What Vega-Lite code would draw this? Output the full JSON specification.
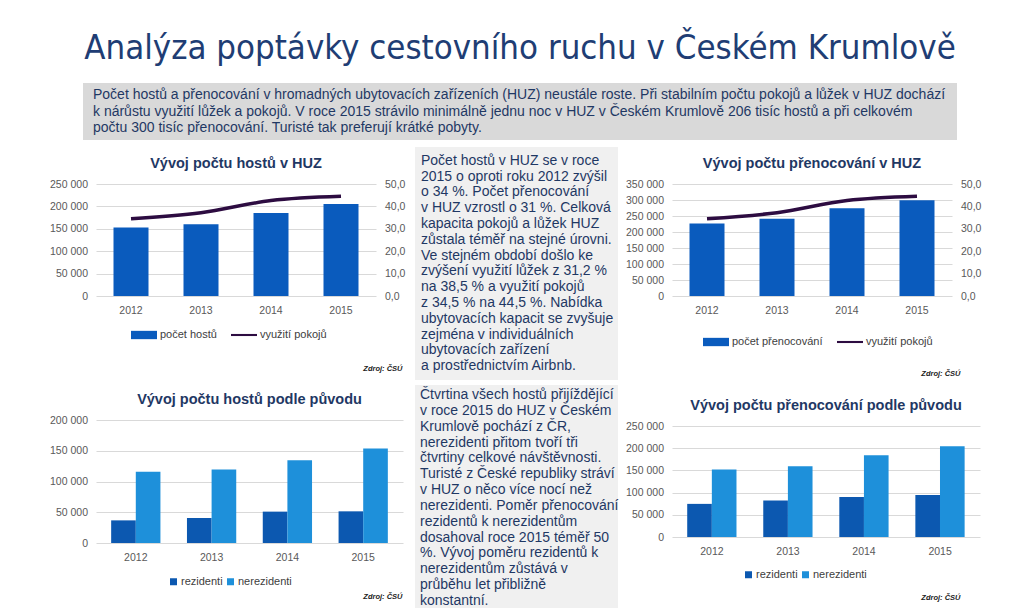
{
  "$schema": "https://vega.github.io/schema/vega-lite/v6.json",
  "autosize": {"type": "none"},
  "padding": {"left": 0, "top": 83, "right": 1023, "bottom": 525},
  "background": "white",
  "datasets": {
    "huz": [
      {"rok": "2012", "hoste": 152800, "prenoc": 226800, "pokoje": 34.5},
      {"rok": "2013", "hoste": 160100, "prenoc": 241700, "pokoje": 37.2},
      {"rok": "2014", "hoste": 185500, "prenoc": 274400, "pokoje": 42.6},
      {"rok": "2015", "hoste": 205100, "prenoc": 299100, "pokoje": 44.5}
    ],
    "puvod": [
      {"rok": "2012", "puvod": "rezidenti", "hoste": 36800, "prenoc": 74600},
      {"rok": "2012", "puvod": "nerezidenti", "hoste": 116000, "prenoc": 152200},
      {"rok": "2013", "puvod": "rezidenti", "hoste": 40700, "prenoc": 82100},
      {"rok": "2013", "puvod": "nerezidenti", "hoste": 119400, "prenoc": 159600},
      {"rok": "2014", "puvod": "rezidenti", "hoste": 51000, "prenoc": 90200},
      {"rok": "2014", "puvod": "nerezidenti", "hoste": 134500, "prenoc": 184200},
      {"rok": "2015", "puvod": "rezidenti", "hoste": 51500, "prenoc": 94700},
      {"rok": "2015", "puvod": "nerezidenti", "hoste": 153600, "prenoc": 204400}
    ],
    "souhrn": [
      {"box": "souhrn", "line": 1, "text": "Počet hostů a přenocování v hromadných ubytovacích zařízeních (HUZ) neustále roste. Při stabilním počtu pokojů a lůžek v HUZ dochází"},
      {"box": "souhrn", "line": 2, "text": "k nárůstu využití lůžek a pokojů. V roce 2015 strávilo minimálně jednu noc v HUZ v Českém Krumlově 206 tisíc hostů a při celkovém"},
      {"box": "souhrn", "line": 3, "text": "počtu 300 tisíc přenocování. Turisté tak preferují krátké pobyty."}
    ],
    "text1": [
      {"box": "t1", "line": 1, "text": "Počet hostů v HUZ se v roce"},
      {"box": "t1", "line": 2, "text": "2015 o oproti roku 2012 zvýšil"},
      {"box": "t1", "line": 3, "text": "o 34 %. Počet přenocování"},
      {"box": "t1", "line": 4, "text": "v HUZ vzrostl o 31 %. Celková"},
      {"box": "t1", "line": 5, "text": "kapacita pokojů a lůžek HUZ"},
      {"box": "t1", "line": 6, "text": "zůstala téměř na stejné úrovni."},
      {"box": "t1", "line": 7, "text": "Ve stejném období došlo ke"},
      {"box": "t1", "line": 8, "text": "zvýšení využití lůžek z 31,2 %"},
      {"box": "t1", "line": 9, "text": "na 38,5 % a využití pokojů"},
      {"box": "t1", "line": 10, "text": "z 34,5 % na 44,5 %. Nabídka"},
      {"box": "t1", "line": 11, "text": "ubytovacích kapacit se zvyšuje"},
      {"box": "t1", "line": 12, "text": "zejména v individuálních"},
      {"box": "t1", "line": 13, "text": "ubytovacích zařízení"},
      {"box": "t1", "line": 14, "text": "a prostřednictvím Airbnb."}
    ],
    "text2": [
      {"box": "t2", "line": 1, "text": "Čtvrtina všech hostů přijíždějící"},
      {"box": "t2", "line": 2, "text": "v roce 2015 do HUZ v Českém"},
      {"box": "t2", "line": 3, "text": "Krumlově pochází z ČR,"},
      {"box": "t2", "line": 4, "text": "nerezidenti přitom tvoří tři"},
      {"box": "t2", "line": 5, "text": "čtvrtiny celkové návštěvnosti."},
      {"box": "t2", "line": 6, "text": "Turisté z České republiky stráví"},
      {"box": "t2", "line": 7, "text": "v HUZ o něco více nocí než"},
      {"box": "t2", "line": 8, "text": "nerezidenti. Poměr přenocování"},
      {"box": "t2", "line": 9, "text": "rezidentů k nerezidentům"},
      {"box": "t2", "line": 10, "text": "dosahoval roce 2015 téměř 50"},
      {"box": "t2", "line": 11, "text": "%. Vývoj poměru rezidentů k"},
      {"box": "t2", "line": 12, "text": "nerezidentům zůstává v"},
      {"box": "t2", "line": 13, "text": "průběhu let přibližně"},
      {"box": "t2", "line": 14, "text": "konstantní."}
    ]
  },
  "columns": 2,
  "spacing": 0,
  "bounds": "flush",
  "resolve": {
    "scale": {"x": "independent", "y": "independent", "color": "independent"},
    "legend": {"color": "independent"}
  },
  "concat": [
    {"width": 83, "height": 1, "data": {"values": []}, "mark": "point", "encoding": {}},
    {
      "width": 874, "height": 57,
      "data": {"name": "souhrn"},
      "view": {"fill": "#d9d9d9", "stroke": null},
      "title": {
        "text": "Analýza poptávky cestovního ruchu v Českém Krumlově",
        "font": "DejaVu Sans Condensed, Liberation Sans Narrow, sans-serif",
        "fontSize": 34.5, "fontWeight": "normal", "color": "#203d74",
        "anchor": "middle", "offset": 17
      },
      "mark": {"type": "text", "align": "left", "baseline": "middle", "dx": 10, "fontSize": 14, "color": "#1f3864"},
      "encoding": {
        "x": {"field": "box", "type": "nominal", "scale": {"type": "point", "padding": 0, "align": 0}, "axis": null},
        "y": {"field": "line", "type": "ordinal", "scale": {"type": "point", "padding": 0.75}, "axis": null},
        "text": {"field": "text"}
      }
    },
    {"width": 1, "height": 1, "data": {"values": []}, "mark": "point", "encoding": {}},
    {
      "columns": 4,
      "spacing": 0,
      "bounds": "flush",
      "resolve": {
        "scale": {"x": "independent", "y": "independent", "color": "independent"},
        "legend": {"color": "independent"}
      },
      "concat": [
        {"width": 1, "height": 1, "data": {"values": []}, "mark": "point", "encoding": {}},
        {
          "spacing": 0,
          "bounds": "flush",
          "resolve": {
            "scale": {"x": "independent", "y": "independent", "color": "independent"},
            "legend": {"color": "independent"}
          },
          "vconcat": [
            {"width": 1, "height": 44, "data": {"values": []}, "mark": "point", "encoding": {}},
            {
              "width": 280, "height": 112,
              "data": {"name": "huz"},
              "title": {"text": "Vývoj počtu hostů v HUZ", "fontSize": 14.5, "fontWeight": "bold", "color": "#1f3864", "offset": 8},
              "encoding": {
                "x": {"field": "rok", "type": "ordinal", "scale": {"paddingInner": 0.5, "paddingOuter": 0.25},
                  "axis": {"title": "Zdroj: ČSÚ", "titleX": 306, "titleY": 72, "titleAlign": "right", "titleBaseline": "middle", "titleFontSize": 7.5, "titleFontStyle": "italic", "titleFontWeight": "bold", "titleColor": "#222222"}}
              },
              "layer": [
                {
                  "mark": {"type": "bar"},
                  "encoding": {
                    "y": {"field": "hoste", "type": "quantitative", "scale": {"domain": [0, 250000], "nice": false},
                      "axis": {"orient": "left", "title": null, "values": [0, 50000, 100000, 150000, 200000, 250000], "format": ",d", "grid": true}},
                    "color": {"datum": "počet hostů", "scale": {"domain": ["počet hostů", "využití pokojů"], "range": ["#0a5bbd", "#2d0c41"]},
                      "legend": {"orient": "none", "legendX": 35, "legendY": 138, "direction": "horizontal", "title": null, "padding": 0,
                        "symbolType": "M-1,-0.32H1V0.32H-1Z", "symbolSize": 676, "columnPadding": 14, "labelOffset": 3,
                        "labelFontSize": 11, "labelColor": "#404040",
                        "encode": {"symbols": {"update": {
                          "shape": {"signal": "datum.value === 'využití pokojů' ? 'M-1,-0.08H1V0.08H-1Z' : 'M-1,-0.32H1V0.32H-1Z'"},
                          "fill": {"signal": "datum.value === 'využití pokojů' ? '#2d0c41' : '#0a5bbd'"},
                          "stroke": {"value": "transparent"}, "strokeWidth": {"value": 0}, "opacity": {"value": 1}}}}}}
                  }
                },
                {
                  "mark": {"type": "line", "interpolate": "monotone", "strokeWidth": 3.5},
                  "encoding": {
                    "y": {"field": "pokoje", "type": "quantitative", "scale": {"domain": [0, 50], "nice": false},
                      "axis": {"orient": "right", "title": null, "values": [0, 10, 20, 30, 40, 50], "format": ".1f", "grid": false}},
                    "color": {"datum": "využití pokojů"}
                  }
                }
              ],
              "resolve": {"scale": {"y": "independent"}}
            },
            {"width": 1, "height": 124, "data": {"values": []}, "mark": "point", "encoding": {}},
            {
              "width": 307, "height": 123,
              "data": {"name": "puvod"},
              "title": {"text": "Vývoj počtu hostů podle původu", "fontSize": 14.5, "fontWeight": "bold", "color": "#1f3864", "offset": 8},
              "mark": {"type": "bar"},
              "encoding": {
                "x": {"field": "rok", "type": "ordinal", "scale": {"paddingInner": 0.35, "paddingOuter": 0.2},
                  "axis": {"title": "Zdroj: ČSÚ", "titleX": 306, "titleY": 53, "titleAlign": "right", "titleBaseline": "middle", "titleFontSize": 7.5, "titleFontStyle": "italic", "titleFontWeight": "bold", "titleColor": "#222222"}},
                "xOffset": {"field": "puvod", "type": "nominal", "sort": ["rezidenti", "nerezidenti"]},
                "y": {"field": "hoste", "type": "quantitative", "scale": {"domain": [0, 200000], "nice": false},
                  "axis": {"title": null, "values": [0, 50000, 100000, 150000, 200000], "format": ",d", "grid": true}},
                "color": {"field": "puvod", "type": "nominal", "sort": ["rezidenti", "nerezidenti"],
                  "scale": {"domain": ["rezidenti", "nerezidenti"], "range": ["#0c58b0", "#1e90da"]},
                  "legend": {"orient": "none", "legendX": 72, "legendY": 156, "direction": "horizontal", "title": null, "padding": 0,
                    "symbolType": "square", "symbolSize": 49, "columnPadding": 2, "labelOffset": 2,
                    "labelFontSize": 11, "labelColor": "#404040"}}
              }
            }
          ]
        },
        {
          "spacing": 0,
          "bounds": "flush",
          "vconcat": [
            {"width": 1, "height": 7, "data": {"values": []}, "mark": "point", "encoding": {}},
            {
              "width": 203, "height": 233,
              "data": {"name": "text1"},
              "view": {"fill": "#f0f0f0", "stroke": null},
              "mark": {"type": "text", "align": "left", "baseline": "middle", "dx": 6, "fontSize": 14, "color": "#1f3864"},
              "encoding": {
                "x": {"field": "box", "type": "nominal", "scale": {"type": "point", "padding": 0, "align": 0}, "axis": null},
                "y": {"field": "line", "type": "ordinal", "scale": {"type": "point", "padding": 0.88}, "axis": null},
                "text": {"field": "text"}
              }
            },
            {"width": 1, "height": 5, "data": {"values": []}, "mark": "point", "encoding": {}},
            {
              "width": 203, "height": 223,
              "data": {"name": "text2"},
              "view": {"fill": "#f0f0f0", "stroke": null},
              "mark": {"type": "text", "align": "left", "baseline": "middle", "dx": 5, "fontSize": 14, "color": "#1f3864"},
              "encoding": {
                "x": {"field": "box", "type": "nominal", "scale": {"type": "point", "padding": 0, "align": 0}, "axis": null},
                "y": {"field": "line", "type": "ordinal", "scale": {"type": "point", "padding": 0.54, "align": 0.59}, "axis": null},
                "text": {"field": "text"}
              }
            }
          ]
        },
        {
          "spacing": 0,
          "bounds": "flush",
          "resolve": {
            "scale": {"x": "independent", "y": "independent", "color": "independent"},
            "legend": {"color": "independent"}
          },
          "vconcat": [
            {"width": 1, "height": 44, "data": {"values": []}, "mark": "point", "encoding": {}},
            {
              "width": 280, "height": 112,
              "data": {"name": "huz"},
              "title": {"text": "Vývoj počtu přenocování v HUZ", "fontSize": 14.5, "fontWeight": "bold", "color": "#1f3864", "offset": 8},
              "encoding": {
                "x": {"field": "rok", "type": "ordinal", "scale": {"paddingInner": 0.5, "paddingOuter": 0.25},
                  "axis": {"title": "Zdroj: ČSÚ", "titleX": 288, "titleY": 77, "titleAlign": "right", "titleBaseline": "middle", "titleFontSize": 7.5, "titleFontStyle": "italic", "titleFontWeight": "bold", "titleColor": "#222222"}}
              },
              "layer": [
                {
                  "mark": {"type": "bar"},
                  "encoding": {
                    "y": {"field": "prenoc", "type": "quantitative", "scale": {"domain": [0, 350000], "nice": false},
                      "axis": {"orient": "left", "title": null, "values": [0, 50000, 100000, 150000, 200000, 250000, 300000, 350000], "format": ",d", "grid": true}},
                    "color": {"datum": "počet přenocování", "scale": {"domain": ["počet přenocování", "využití pokojů"], "range": ["#0a5bbd", "#2d0c41"]},
                      "legend": {"orient": "none", "legendX": 31, "legendY": 145, "direction": "horizontal", "title": null, "padding": 0,
                        "symbolType": "M-1,-0.32H1V0.32H-1Z", "symbolSize": 676, "columnPadding": 14, "labelOffset": 3,
                        "labelFontSize": 11, "labelColor": "#404040",
                        "encode": {"symbols": {"update": {
                          "shape": {"signal": "datum.value === 'využití pokojů' ? 'M-1,-0.08H1V0.08H-1Z' : 'M-1,-0.32H1V0.32H-1Z'"},
                          "fill": {"signal": "datum.value === 'využití pokojů' ? '#2d0c41' : '#0a5bbd'"},
                          "stroke": {"value": "transparent"}, "strokeWidth": {"value": 0}, "opacity": {"value": 1}}}}}}
                  }
                },
                {
                  "mark": {"type": "line", "interpolate": "monotone", "strokeWidth": 3.5},
                  "encoding": {
                    "y": {"field": "pokoje", "type": "quantitative", "scale": {"domain": [0, 50], "nice": false},
                      "axis": {"orient": "right", "title": null, "values": [0, 10, 20, 30, 40, 50], "format": ".1f", "grid": false}},
                    "color": {"datum": "využití pokojů"}
                  }
                }
              ],
              "resolve": {"scale": {"y": "independent"}}
            },
            {"width": 1, "height": 130, "data": {"values": []}, "mark": "point", "encoding": {}},
            {
              "width": 308, "height": 111,
              "data": {"name": "puvod"},
              "title": {"text": "Vývoj počtu přenocování podle původu", "fontSize": 14.5, "fontWeight": "bold", "color": "#1f3864", "offset": 8},
              "mark": {"type": "bar"},
              "encoding": {
                "x": {"field": "rok", "type": "ordinal", "scale": {"paddingInner": 0.35, "paddingOuter": 0.2},
                  "axis": {"title": "Zdroj: ČSÚ", "titleX": 288, "titleY": 60, "titleAlign": "right", "titleBaseline": "middle", "titleFontSize": 7.5, "titleFontStyle": "italic", "titleFontWeight": "bold", "titleColor": "#222222"}},
                "xOffset": {"field": "puvod", "type": "nominal", "sort": ["rezidenti", "nerezidenti"]},
                "y": {"field": "prenoc", "type": "quantitative", "scale": {"domain": [0, 250000], "nice": false},
                  "axis": {"title": null, "values": [0, 50000, 100000, 150000, 200000, 250000], "format": ",d", "grid": true}},
                "color": {"field": "puvod", "type": "nominal", "sort": ["rezidenti", "nerezidenti"],
                  "scale": {"domain": ["rezidenti", "nerezidenti"], "range": ["#0c58b0", "#1e90da"]},
                  "legend": {"orient": "none", "legendX": 71, "legendY": 143, "direction": "horizontal", "title": null, "padding": 0,
                    "symbolType": "square", "symbolSize": 49, "columnPadding": 2, "labelOffset": 2,
                    "labelFontSize": 11, "labelColor": "#404040"}}
              }
            }
          ]
        },
        {"width": 13, "height": 1, "data": {"values": []}, "mark": "point", "encoding": {}},
        {"width": 319, "height": 1, "data": {"values": []}, "mark": "point", "encoding": {}},
        {"width": 257, "height": 1, "data": {"values": []}, "mark": "point", "encoding": {}},
        {"width": 1, "height": 1, "data": {"values": []}, "mark": "point", "encoding": {}}
      ]
    }
  ],
  "config": {
    "font": "Liberation Sans",
    "view": {"stroke": null},
    "locale": {"number": {"decimal": ",", "thousands": " ", "grouping": [3], "currency": ["", " Kč"]}},
    "axis": {"domain": false, "ticks": false, "tickSize": 0, "labelColor": "#595959", "labelFontSize": 10.5, "gridColor": "#d9d9d9", "gridWidth": 1},
    "axisX": {"labelAngle": 0, "labelPadding": 9.5, "grid": false},
    "axisY": {"labelPadding": 8.5},
    "title": {"font": "Liberation Sans"}
  }
}
